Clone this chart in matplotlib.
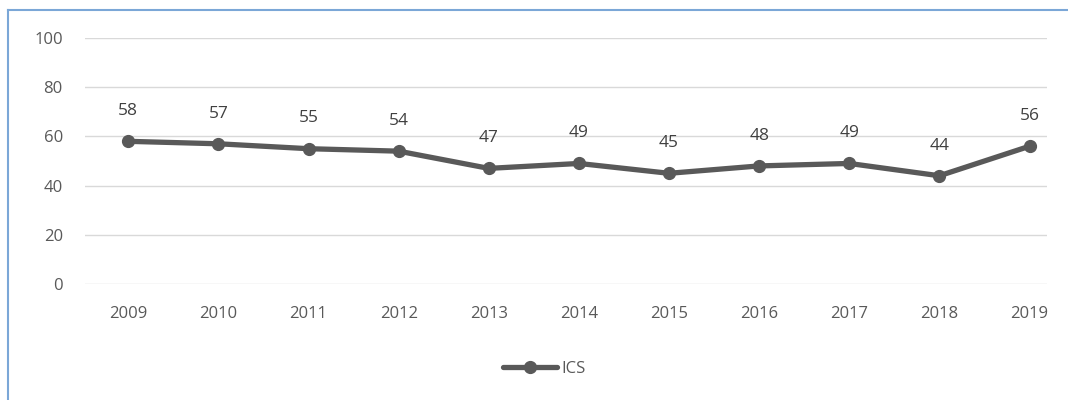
import matplotlib.pyplot as plt
from matplotlib.lines import Line2D

years = ['2009', '2010', '2011', '2012', '2013', '2014', '2015', '2016', '2017', '2018', '2019']
ics = [58, 57, 55, 54, 47, 49, 45, 48, 49, 44, 56]
yticks = [0, 20, 40, 60, 80, 100]

plt.rcParams['font.family'] = ['Open Sans', 'DejaVu Sans']

fig = plt.figure(figsize=(10.68, 4), dpi=100)
ax = fig.add_axes([0.0796, 0.29, 0.9004, 0.615])

x = list(range(len(years)))
ax.plot(x, ics, color='#595959', lw=3.8, marker='o', markersize=8.5,
        solid_capstyle='round', label='ICS', zorder=3)
for xi, v in zip(x, ics):
    ax.annotate(str(v), (xi, v), xytext=(0, 16), textcoords='offset points',
                ha='center', va='bottom', fontsize=12.5, color='#404040')

ax.set_xlim(-0.48, 10.19)
ax.set_ylim(0, 100)
ax.set_yticks(yticks)
ax.set_xticks(x)
ax.set_xticklabels(years)
ax.tick_params(length=0, labelsize=12, colors='#595959')
ax.tick_params(axis='x', pad=16)
ax.tick_params(axis='y', pad=16)
ax.grid(axis='y', color='#d9d9d9', lw=1)
ax.set_axisbelow(True)
for s in ax.spines.values():
    s.set_visible(False)

fig.legend(loc='center', bbox_to_anchor=(0.51, 0.077), frameon=False,
           fontsize=12, handlelength=3.2, handletextpad=0.3, labelcolor='#595959')

# border of the chart box
fig.add_artist(Line2D([8/1068, 8/1068], [0, 1 - 10/400], color='#7ba7d7', lw=1.5))
fig.add_artist(Line2D([8/1068, 1], [1 - 10/400, 1 - 10/400], color='#7ba7d7', lw=1.5))

fig.savefig('out.png', dpi=100)
